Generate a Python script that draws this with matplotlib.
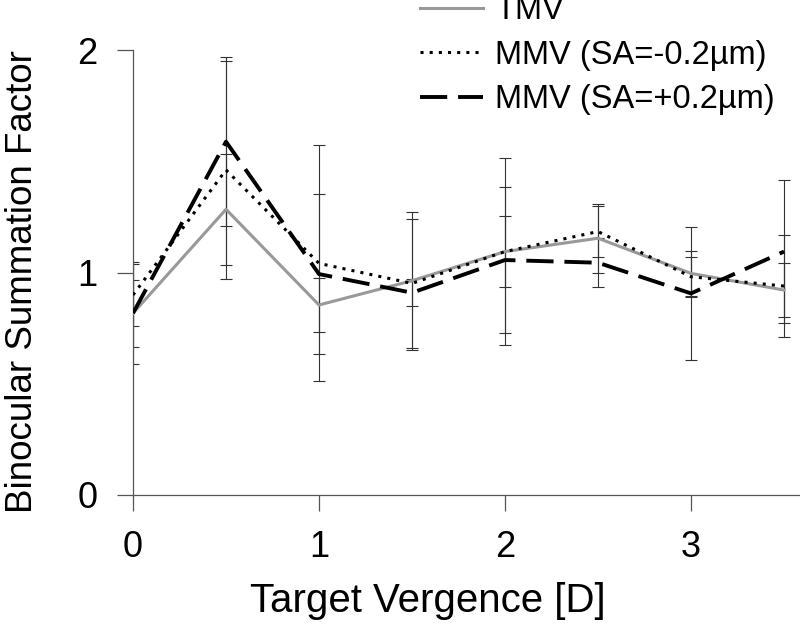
import matplotlib
matplotlib.use("Agg")
import matplotlib.pyplot as plt

# === DATA ===
vergence = [0, 0.5, 1, 1.5, 2, 2.5, 3, 3.5]
tmv = [0.817, 1.284, 0.854, 0.963, 1.094, 1.154, 0.996, 0.921]
tmv_err = [0.23, 0.25, 0.12, 0.31, 0.16, 0.155, 0.10, 0.12]
mmv_neg = [0.899, 1.461, 1.041, 0.951, 1.094, 1.184, 0.981, 0.939]
mmv_neg_err = [0.14, 0.49, 0.53, 0.29, 0.42, 0.115, 0.09, 0.23]
mmv_pos = [0.817, 1.588, 0.993, 0.909, 1.056, 1.044, 0.906, 1.094]
mmv_pos_err = [0.15, 0.38, 0.36, 0.06, 0.33, 0.11, 0.30, 0.32]
labels = ["TMV", "MMV (SA=-0.2\u00b5m)", "MMV (SA=+0.2\u00b5m)"]
x_ticks = [0, 1, 2, 3]
y_ticks = [0, 1, 2]

plt.rcParams['font.family'] = ['Liberation Sans', 'DejaVu Sans']

fig = plt.figure(figsize=(8, 6.23), dpi=100)
ax = fig.add_axes([0.16625, 0.2055, 0.83375, 0.7142])

# error bars first, lines on top
for y, e in [(tmv, tmv_err), (mmv_neg, mmv_neg_err), (mmv_pos, mmv_pos_err)]:
    ax.errorbar(vergence, y, yerr=e, fmt='none', ecolor='#333333',
                elinewidth=0.8, capsize=4, capthick=0.8, zorder=2)

ax.plot(vergence, tmv, color='#999999', lw=2.2, label=labels[0], zorder=3)
ax.plot(vergence, mmv_neg, color='black', lw=2.2, dashes=(1, 2),
        label=labels[1], zorder=4)
ax.plot(vergence, mmv_pos, color='black', lw=2.8, dashes=(7, 2.8),
        label=labels[2], zorder=5)

ax.set_xlim(0, 3.586)
ax.set_ylim(0, 2)
ax.set_xticks(x_ticks)
ax.set_yticks(y_ticks)

for s in ['top', 'right']:
    ax.spines[s].set_visible(False)
for s in ['left', 'bottom']:
    ax.spines[s].set_color('#555555')
    ax.spines[s].set_linewidth(0.9)

ax.tick_params(direction='out', length=11.5, width=0.9, color='#555555',
               labelsize=26, pad=14)

ax.set_xlabel("Target Vergence [D]", fontsize=29)
ax.xaxis.set_label_coords(0.442, -0.196)
ax.set_ylabel("Binocular Summation Factor", fontsize=26.5)
ax.yaxis.set_label_coords(-0.1394, 0.48)

fig.legend(loc='upper left', bbox_to_anchor=(0.525, 1.008), frameon=False,
           fontsize=23.5, handlelength=1.93, handletextpad=0.37,
           labelspacing=0.42, borderpad=0, borderaxespad=0)

fig.savefig("out.png", dpi=100)
